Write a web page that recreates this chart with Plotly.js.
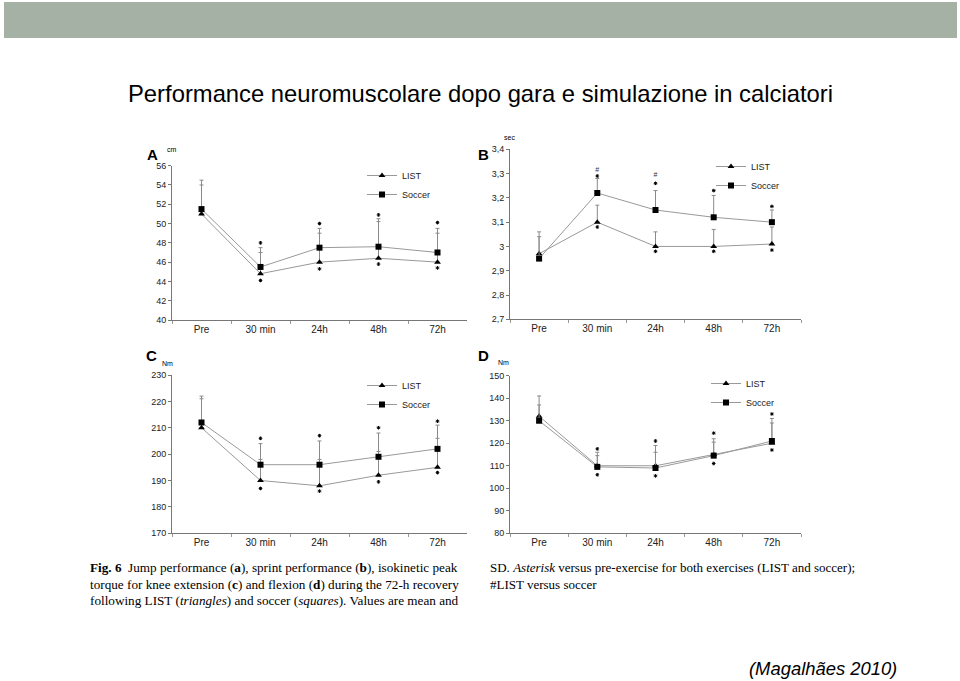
<!DOCTYPE html>
<html>
<head>
<meta charset="utf-8">
<script src="https://cdn.plot.ly/plotly-3.0.1.min.js"></script>
<style>
html,body{margin:0;padding:0;background:#fff;}
#chart{width:960px;height:681px;}
</style>
</head>
<body>
<div id="chart"></div>
<script>
// ---- data ----
var timepoints = ["Pre", "30 min", "24h", "48h", "72h"];

// A: jump performance (cm)
var aList = [51.0, 44.8, 46.0, 46.4, 46.0];
var aSoccer = [51.5, 45.5, 47.5, 47.6, 47.0];
var aListSD = [3.0, 2.2, 3.0, 3.8, 3.0];
var aSoccerSD = [3.0, 2.0, 2.0, 2.9, 2.5];
var aStarUp = [null, 48.0, 50.0, 50.9, 50.1];
var aStarDown = [null, 44.1, 45.3, 45.8, 45.4];

// B: sprint performance (sec)
var bList = [2.97, 3.10, 3.00, 3.00, 3.01];
var bSoccer = [2.95, 3.22, 3.15, 3.12, 3.10];
var bListSD = [0.09, 0.07, 0.06, 0.07, 0.07];
var bSoccerSD = [0.09, 0.06, 0.08, 0.09, 0.05];
var bStarUp = [null, 3.29, 3.26, 3.23, 3.165];
var bStarDown = [null, 3.08, 2.98, 2.98, 2.985];
var bHash = [null, 3.315, 3.295, null, null];

// C: knee extension peak torque (Nm)
var cList = [210, 190, 188, 192, 195];
var cSoccer = [212, 196, 196, 199, 202];
var cListSD = [12, 8, 10, 9, 11];
var cSoccerSD = [9, 8, 9, 9, 9];
var cStarUp = [null, 206, 207, 210, 212.5];
var cStarDown = [null, 187, 186, 189.5, 193];

// D: knee flexion peak torque (Nm)
var dList = [132, 110, 110, 115, 120];
var dSoccer = [130, 109.5, 109, 114.5, 121];
var dListSD = [9, 6, 9, 7, 9];
var dSoccerSD = [7, 5, 7, 6, 10];
var dStarUp = [null, 117.5, 121, 124.5, 133];
var dStarDown = [null, 106, 105.5, 111, 117];

var seriesNames = ["LIST", "Soccer"];

// ---- helpers ----
var W = 960, H = 681;
function px(x){ return x / W; }
function py(y){ return 1 - y / H; }

var lineCol = "#999999";
var errCol = "#8a8a8a";

function seriesTraces(xa, ya, leg, list, listSD, soccer, soccerSD){
  return [
    {x: timepoints, y: list, xaxis: xa, yaxis: ya, legend: leg, name: seriesNames[0],
     type: "scatter", mode: "lines+markers", cliponaxis: false,
     line: {color: lineCol, width: 1},
     marker: {symbol: "triangle-up", size: 6, color: "#000"},
     error_y: {type: "data", symmetric: false, array: listSD, arrayminus: [0,0,0,0,0],
               color: errCol, thickness: 1, width: 2},
     hoverinfo: "skip"},
    {x: timepoints, y: soccer, xaxis: xa, yaxis: ya, legend: leg, name: seriesNames[1],
     type: "scatter", mode: "lines+markers", cliponaxis: false,
     line: {color: lineCol, width: 1},
     marker: {symbol: "square", size: 6, color: "#000"},
     error_y: {type: "data", symmetric: false, array: soccerSD, arrayminus: [0,0,0,0,0],
               color: errCol, thickness: 1, width: 2},
     hoverinfo: "skip"}
  ];
}
function starTrace(xa, ya, vals){
  return {x: timepoints, y: vals, xaxis: xa, yaxis: ya, type: "scatter", mode: "markers",
          cliponaxis: false,
          marker: {symbol: "asterisk-open", size: 3, color: "#000", line: {color: "#000", width: 1}},
          showlegend: false, hoverinfo: "skip"};
}
function hashTrace(xa, ya, vals){
  return {x: timepoints, y: vals, xaxis: xa, yaxis: ya, type: "scatter", mode: "text",
          text: vals.map(function(v){ return v === null ? "" : "#"; }),
          textposition: "middle center", cliponaxis: false,
          textfont: {family: "Liberation Sans, Arial, sans-serif", size: 7, color: "#333"},
          showlegend: false, hoverinfo: "skip"};
}

var data = [];
data = data.concat(seriesTraces("x", "y", "legend", aList, aListSD, aSoccer, aSoccerSD));
data.push(starTrace("x", "y", aStarUp));
data.push(starTrace("x", "y", aStarDown));
data = data.concat(seriesTraces("x2", "y2", "legend2", bList, bListSD, bSoccer, bSoccerSD));
data.push(starTrace("x2", "y2", bStarUp));
data.push(starTrace("x2", "y2", bStarDown));
data.push(hashTrace("x2", "y2", bHash));
data = data.concat(seriesTraces("x3", "y3", "legend3", cList, cListSD, cSoccer, cSoccerSD));
data.push(starTrace("x3", "y3", cStarUp));
data.push(starTrace("x3", "y3", cStarDown));
data = data.concat(seriesTraces("x4", "y4", "legend4", dList, dListSD, dSoccer, dSoccerSD));
data.push(starTrace("x4", "y4", dStarUp));
data.push(starTrace("x4", "y4", dStarDown));

var tickFont = {family: "Liberation Sans, Arial, sans-serif", size: 9, color: "#222"};
function xAxis(x0, x1, anchor){
  return {domain: [px(x0), px(x1)], anchor: anchor, type: "category", range: [-0.5, 4.5],
          showline: true, linecolor: "#777", linewidth: 1, showgrid: false, zeroline: false,
          ticks: "outside", tickson: "boundaries", ticklen: 3, tickcolor: "#999",
          tickfont: {family: "Liberation Sans, Arial, sans-serif", size: 10, color: "#222"},
          fixedrange: true};
}
function yAxis(yTop, yBot, anchor, range, dtick){
  return {domain: [py(yBot), py(yTop)], anchor: anchor, range: range, dtick: dtick,
          showline: true, linecolor: "#777", linewidth: 1, showgrid: false, zeroline: false,
          ticks: "outside", ticklen: 3, tickcolor: "#777", tickfont: tickFont, fixedrange: true};
}
function legendAt(x, y){
  return {x: px(x), y: py(y), xanchor: "left", yanchor: "top", bgcolor: "rgba(0,0,0,0)",
          font: {family: "Liberation Sans, Arial, sans-serif", size: 9, color: "#222"},
          itemwidth: 30, tracegroupgap: 0, traceorder: "normal"};
}

var serif = "Liberation Serif, Times New Roman, serif";
var sans = "Liberation Sans, Arial, sans-serif";
function note(x, y, text, size, opts){
  var a = {xref: "paper", yref: "paper", x: px(x), y: py(y), text: text, showarrow: false,
           xanchor: "left", yanchor: "middle", font: {family: sans, size: size, color: "#000"}};
  if (opts) for (var k in opts) a[k] = opts[k];
  return a;
}
var capFont = {family: serif, size: 13.2, color: "#000"};
var capFontR = {family: serif, size: 13.0, color: "#000"};

var layout = {
  width: W, height: H,
  margin: {l: 0, r: 0, t: 0, b: 0},
  paper_bgcolor: "#fff", plot_bgcolor: "rgba(0,0,0,0)",
  separators: ",.",
  xaxis: xAxis(172, 467, "y"),
  yaxis: yAxis(165.7, 320, "x", [40, 56], 2),
  xaxis2: xAxis(510, 801, "y2"),
  yaxis2: yAxis(149.3, 319.3, "x2", [2.7, 3.4], 0.1),
  xaxis3: xAxis(172, 467, "y3"),
  yaxis3: yAxis(375, 533.3, "x3", [170, 230], 10),
  xaxis4: xAxis(510, 801, "y4"),
  yaxis4: yAxis(375.7, 533.3, "x4", [80, 150], 10),
  legend: legendAt(362, 161),
  legend2: legendAt(711, 152),
  legend3: legendAt(362, 371),
  legend4: legendAt(706, 369),
  showlegend: true,
  shapes: [
    {type: "rect", xref: "paper", yref: "paper", x0: px(4), x1: px(957), y0: py(38), y1: py(2),
     fillcolor: "#a6b1a6", line: {width: 0}, layer: "below"}
  ],
  annotations: [
    {xref: "paper", yref: "paper", x: px(480), y: py(94), showarrow: false,
     xanchor: "center", yanchor: "middle",
     text: "Performance neuromuscolare dopo gara e simulazione in calciatori",
     font: {family: sans, size: 23.8, color: "#000"}},
    note(145, 154, "<b>A</b>", 15),
    note(476, 154, "<b>B</b>", 15),
    note(144, 356, "<b>C</b>", 15),
    note(476, 356, "<b>D</b>", 15),
    note(165, 149, "cm", 7),
    note(502, 137, "sec", 7),
    note(160, 363, "Nm", 7),
    note(496, 362, "Nm", 7),
    note(88, 567, "<b>Fig. 6</b>  Jump performance (<b>a</b>), sprint performance (<b>b</b>), isokinetic peak", 13.2, {font: capFont}),
    note(88, 584, "torque for knee extension (<b>c</b>) and flexion (<b>d</b>) during the 72-h recovery", 13.2, {font: capFont}),
    note(88, 600, "following LIST (<i>triangles</i>) and soccer (<i>squares</i>). Values are mean and", 13.2, {font: capFont}),
    note(488, 567, "SD. <i>Asterisk</i> versus pre-exercise for both exercises (LIST and soccer);", 13.0, {font: capFontR}),
    note(488, 584, "#LIST versus soccer", 13.0, {font: capFontR}),
    note(747, 668, "<i>(Magalhães 2010)</i>", 18.4)
  ]
};

Plotly.newPlot("chart", data, layout, {staticPlot: true, displayModeBar: false});
</script>
</body>
</html>
